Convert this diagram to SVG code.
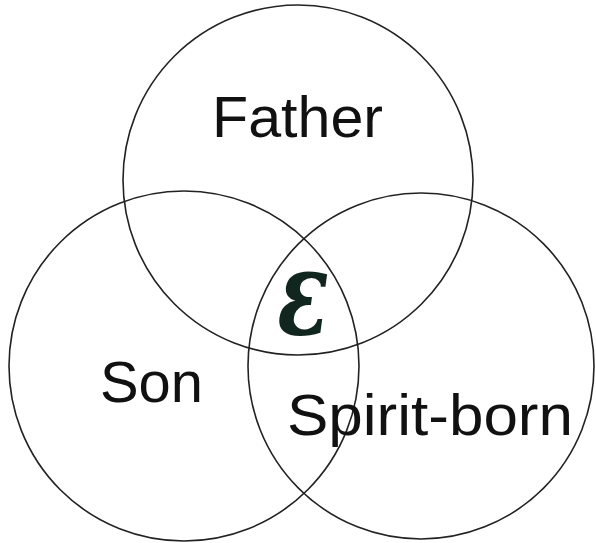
<svg xmlns="http://www.w3.org/2000/svg" width="596" height="543" viewBox="0 0 596 543">
<style>
.c{fill:none;stroke:#222;stroke-width:1.6}
.t{font-family:"Liberation Sans",Arial,sans-serif;font-size:57px;fill:#111}
.e{font-family:"DejaVu Serif",serif;font-weight:bold;font-style:italic;font-size:100px;fill:#10261f}
</style>
<rect width="596" height="543" fill="#fff"/>
<g id="father"><circle class="c" cx="298" cy="180" r="175"/><text class="t" x="212" y="137" textLength="171" lengthAdjust="spacingAndGlyphs">Father</text></g>
<g id="son"><circle class="c" cx="184" cy="366" r="175"/><text class="t" x="100" y="402" textLength="103" lengthAdjust="spacingAndGlyphs">Son</text></g>
<g id="spirit"><circle class="c" cx="421" cy="366" r="173"/><text class="t" x="287" y="435" textLength="286" lengthAdjust="spacingAndGlyphs">Spirit-born</text></g>
<g id="center"><text class="e" text-anchor="middle" transform="translate(303,335) scale(0.85,1.2)">ε</text></g>
</svg>
